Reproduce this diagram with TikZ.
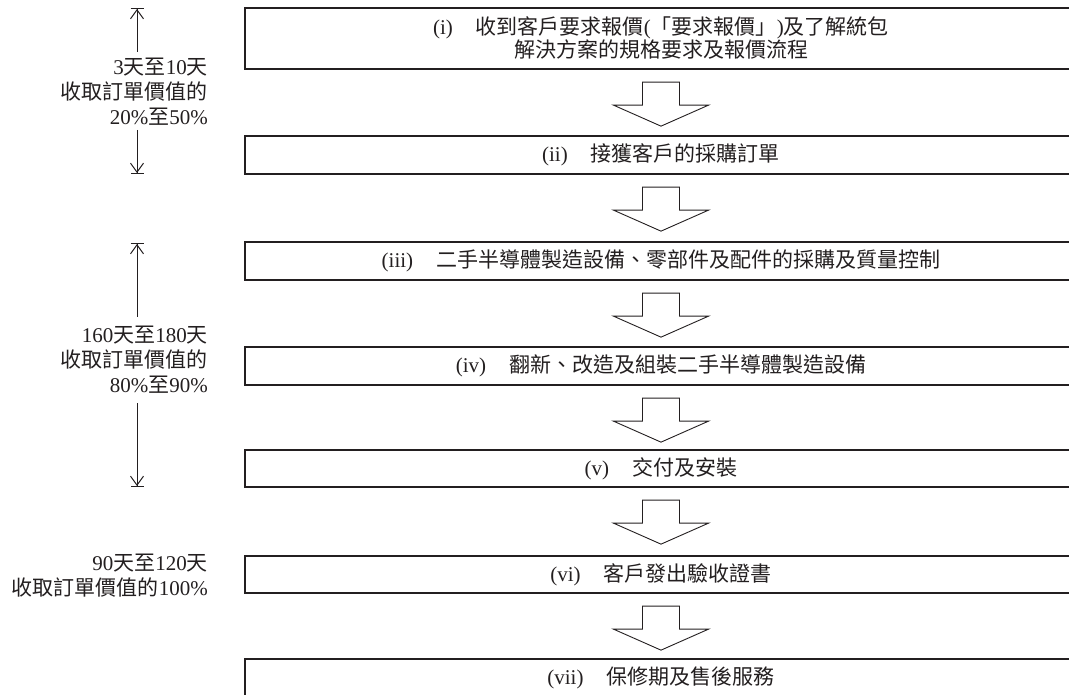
\documentclass[tikz,border=0pt]{standalone}
\usepackage{fontspec}
\setmainfont{Liberation Serif}
\newfontfamily\cjk{Noto Sans CJK TC}
\newcommand\zh[1]{{\cjk #1}}
\newcommand\gap{\hspace{1.1em}}
\usetikzlibrary{arrows.meta,calc}
\definecolor{ink}{HTML}{231F20}
\tikzset{
  box/.style={draw=ink, line width=1.3pt, rectangle, minimum width=832pt,
    inner sep=0pt, text=ink, font=\fontsize{21}{23}\selectfont, align=center},
  blockarrow/.pic={\draw[ink, line width=0.9pt, line join=miter]
    (-18.5,0) -- (18.5,0) -- (18.5,23) -- (47.5,23) -- (0,44) -- (-47.5,23) -- (-18.5,23) -- cycle;},
  lbl/.style={anchor=east, align=right, inner sep=0pt, text=ink,
    font=\fontsize{21}{25}\selectfont},
  dimline/.style={draw=ink, line width=1pt},
  tipend/.style={-{Straight Barb[length=9pt,width=13pt,sep=0pt]Bar[width=13pt,sep=0pt]}},
}
\begin{document}
\begin{tikzpicture}[x=1pt,y=-1pt]
\clip (0,0) rectangle (1069,695);
% boxes
\node[box, minimum height=61pt] (b1) at (661,38.5)
  {(i)\gap\zh{收到客戶要求報價}(\zh{「要求報價」})\zh{及了解統包}\\
   \zh{解決方案的規格要求及報價流程}};
\node[box, minimum height=38pt] (b2) at (661,155) {(ii)\gap\zh{接獲客戶的採購訂單}};
\node[box, minimum height=38pt] (b3) at (661,261) {(iii)\gap\zh{二手半導體製造設備、零部件及配件的採購及質量控制}};
\node[box, minimum height=38pt] (b4) at (661,366) {(iv)\gap\zh{翻新、改造及組裝二手半導體製造設備}};
\node[box, minimum height=37pt] (b5) at (661,468.5) {(v)\gap\zh{交付及安裝}};
\node[box, minimum height=37pt] (b6) at (661,574.5) {(vi)\gap\zh{客戶發出驗收證書}};
\node[box, minimum height=38pt] (b7) at (661,678) {(vii)\gap\zh{保修期及售後服務}};
% block arrows
\foreach \a in {b1,b2,b3,b4,b5,b6}{
  \pic at ($(\a.south)+(0,12.5)$) {blockarrow};
}
% left annotations
\node[lbl] (t1) at (208,92) {3\zh{天至}10\zh{天}\\\zh{收取訂單價值的}\\20\%\zh{至}50\%};
\coordinate (a1t) at (137,8);
\coordinate (a1u) at (137,52);
\coordinate (a1d) at (137,130);
\coordinate (a1b) at (137,174);
\draw[dimline, tipend] (a1u) -- (a1t);
\draw[dimline, tipend] (a1d) -- (a1b);
\node[lbl] (t2) at (208,360) {160\zh{天至}180\zh{天}\\\zh{收取訂單價值的}\\80\%\zh{至}90\%};
\coordinate (a2t) at (137,243);
\coordinate (a2u) at (137,317);
\coordinate (a2d) at (137,403);
\coordinate (a2b) at (137,487);
\draw[dimline, tipend] (a2u) -- (a2t);
\draw[dimline, tipend] (a2d) -- (a2b);
\node[lbl] (t3) at (208,576) {90\zh{天至}120\zh{天}\\\zh{收取訂單價值的}100\%};
\end{tikzpicture}
\end{document}
